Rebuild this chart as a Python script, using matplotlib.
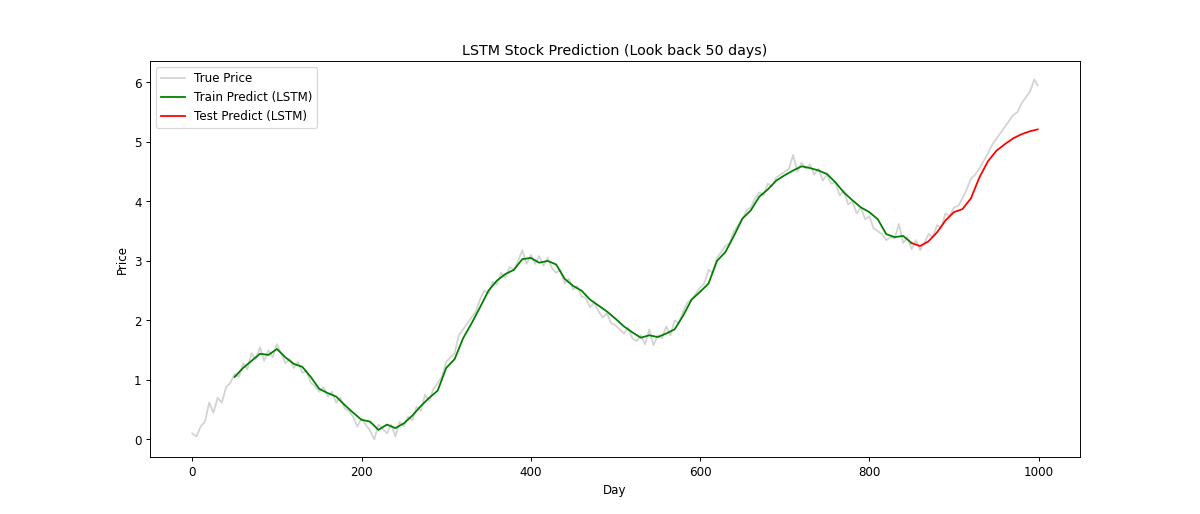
import matplotlib
matplotlib.use("Agg")
import matplotlib.pyplot as plt
import numpy as np

true_days = list(range(0, 1000, 5)) + [999]
true_price = [
    0.10, 0.05, 0.22, 0.30, 0.62, 0.45, 0.70, 0.62, 0.88, 0.95,
    1.10, 1.05, 1.28, 1.18, 1.45, 1.35, 1.55, 1.32, 1.50, 1.38,
    1.60, 1.45, 1.28, 1.35, 1.20, 1.30, 1.12, 1.15, 0.95, 0.90,
    0.80, 0.88, 0.72, 0.80, 0.62, 0.70, 0.52, 0.48, 0.38, 0.22,
    0.35, 0.25, 0.15, 0.00, 0.25, 0.18, 0.10, 0.25, 0.05, 0.30,
    0.22, 0.38, 0.32, 0.55, 0.48, 0.75, 0.65, 0.85, 0.95, 1.05,
    1.30, 1.38, 1.45, 1.75, 1.85, 1.95, 2.05, 2.15, 2.35, 2.50,
    2.45, 2.65, 2.60, 2.80, 2.72, 2.90, 2.85, 3.00, 3.18, 2.95,
    3.10, 2.95, 3.08, 2.92, 3.05, 2.88, 2.80, 2.85, 2.62, 2.70,
    2.52, 2.58, 2.40, 2.38, 2.22, 2.30, 2.15, 2.05, 2.12, 1.95,
    1.92, 1.85, 1.78, 1.88, 1.70, 1.65, 1.75, 1.60, 1.85, 1.58,
    1.75, 1.70, 1.90, 1.75, 2.00, 1.95, 2.15, 2.30, 2.35, 2.45,
    2.55, 2.62, 2.85, 2.80, 3.05, 3.15, 3.25, 3.30, 3.50, 3.60,
    3.70, 3.85, 3.90, 4.05, 4.15, 4.10, 4.30, 4.25, 4.40, 4.45,
    4.50, 4.55, 4.78, 4.50, 4.65, 4.55, 4.62, 4.45, 4.55, 4.35,
    4.45, 4.30, 4.32, 4.10, 4.18, 3.95, 4.00, 3.80, 3.90, 3.70,
    3.75, 3.55, 3.50, 3.45, 3.35, 3.40, 3.38, 3.62, 3.30, 3.40,
    3.20, 3.35, 3.18, 3.30, 3.45, 3.40, 3.60, 3.55, 3.80, 3.75,
    3.90, 3.92, 4.05, 4.20, 4.38, 4.45, 4.55, 4.68, 4.80, 4.95,
    5.05, 5.15, 5.25, 5.35, 5.45, 5.50, 5.65, 5.75, 5.85, 6.05,
    5.95,
]

train_days = list(range(50, 851, 10))
train_pred = [
    1.05, 1.20, 1.32, 1.44, 1.42, 1.52, 1.38, 1.27, 1.22, 1.05,
    0.85, 0.78, 0.72, 0.58, 0.45, 0.33, 0.30, 0.16, 0.25, 0.19,
    0.27, 0.40, 0.56, 0.70, 0.82, 1.20, 1.35, 1.70, 1.95, 2.22,
    2.50, 2.67, 2.78, 2.85, 3.03, 3.05, 2.97, 3.00, 2.94, 2.70,
    2.58, 2.50, 2.35, 2.25, 2.15, 2.03, 1.90, 1.80, 1.71, 1.75,
    1.72, 1.78, 1.85, 2.08, 2.35, 2.48, 2.62, 3.00, 3.15, 3.42,
    3.71, 3.85, 4.08, 4.20, 4.35, 4.44, 4.52, 4.59, 4.56, 4.52,
    4.46, 4.32, 4.15, 4.02, 3.90, 3.82, 3.70, 3.45, 3.40, 3.42,
    3.30,
]

test_days = list(range(850, 1000, 10)) + [999]
test_pred = [3.30, 3.25, 3.33, 3.48, 3.68, 3.82, 3.87, 4.05, 4.40, 4.67,
             4.85, 4.96, 5.06, 5.13, 5.18, 5.21]

fig, ax = plt.subplots(figsize=(14, 6), dpi=1200 / 14)
ax.plot(true_days, true_price, color='lightgray', label='True Price')
ax.plot(train_days, train_pred, color='green', label='Train Predict (LSTM)')
ax.plot(test_days, test_pred, color='red', label='Test Predict (LSTM)')
ax.set_title('LSTM Stock Prediction (Look back 50 days)')
ax.set_xlabel('Day')
ax.set_ylabel('Price')
ax.legend(loc='upper left')
fig.savefig('out.png')
